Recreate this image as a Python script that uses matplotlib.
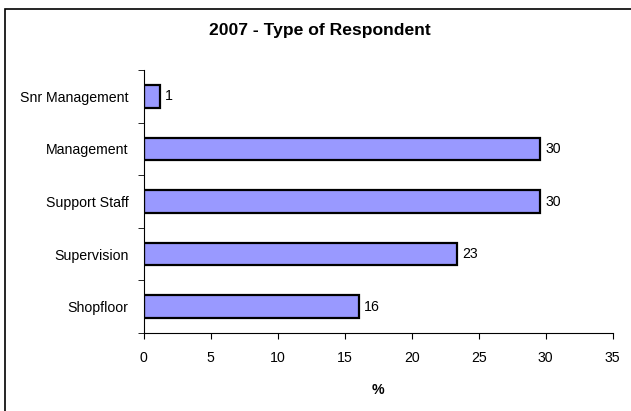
import matplotlib.pyplot as plt
from matplotlib.patches import Rectangle

plt.rcParams['font.family'] = ['Liberation Sans', 'DejaVu Sans']

# respondent types, bottom to top
categories = ['Shopfloor', 'Supervision', 'Support Staff', 'Management', 'Snr Management']
percent = [16.1, 23.4, 29.6, 29.6, 1.2]

fig = plt.figure(figsize=(6.31, 4.11), dpi=100)

# chart frame (runs off the right and bottom edges)
fig.patches.append(Rectangle((5 / 631, -0.05), 1.0, 1 - 9 / 411 + 0.05,
                             transform=fig.transFigure, fill=False,
                             edgecolor='black', linewidth=1.2))

ax = fig.add_axes([143.7 / 631, 1 - 333 / 411, (612.7 - 143.7) / 631, (333 - 70) / 411])

y = range(len(categories))
bars = ax.barh(y, percent, height=0.43, color='#9999FF', edgecolor='black', linewidth=1.6)

for rect, v in zip(bars, percent):
    ax.text(rect.get_width() + 0.35, rect.get_y() + rect.get_height() / 2, '%.0f' % v,
            va='center', ha='left', fontsize=10.2)

ax.set_xlim(0, 35)
ax.set_ylim(-0.5, len(categories) - 0.5)
ax.set_xticks(range(0, 36, 5))
ax.set_yticks(y)
ax.set_yticklabels(categories)
ax.set_yticks([i - 0.5 for i in range(len(categories) + 1)], minor=True)
ax.tick_params(axis='y', which='major', length=0, pad=11, labelsize=10.2)
ax.tick_params(axis='y', which='minor', length=4, direction='out')
ax.tick_params(axis='x', length=4, direction='out', labelsize=10.2, pad=9)

for side in ['top', 'right']:
    ax.spines[side].set_visible(False)
ax.spines['left'].set_linewidth(0.8)
ax.spines['bottom'].set_linewidth(0.8)

ax.set_xlabel('%', fontsize=10.2, fontweight='bold', labelpad=13)
fig.text(320 / 631, 1 - 31 / 411, '2007 - Type of Respondent',
         ha='center', va='center', fontsize=12.6, fontweight='bold')

fig.savefig('out.png', dpi=100)
